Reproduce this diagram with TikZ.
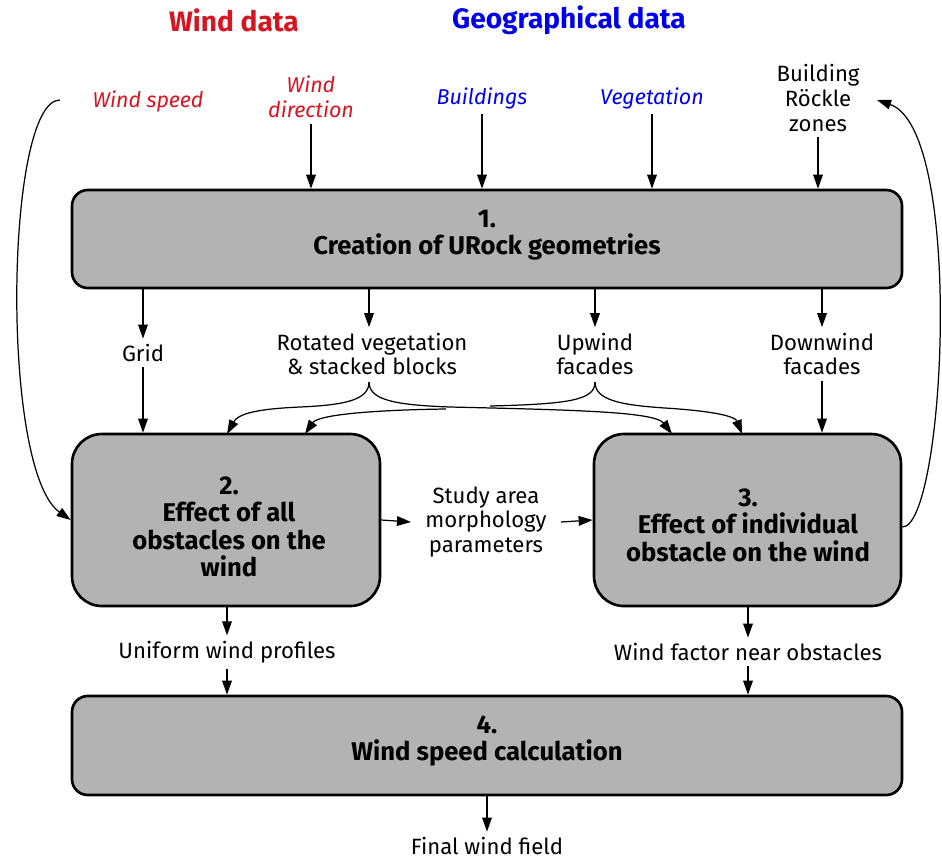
\documentclass[tikz,border=0pt]{standalone}
\usepackage{fontspec}
\setmainfont{Fira Sans}
\usetikzlibrary{arrows.meta,fit}
\definecolor{wred}{RGB}{212,22,34}
\definecolor{gblue}{RGB}{0,0,235}
\definecolor{boxgray}{RGB}{179,179,179}
\begin{document}
\begin{tikzpicture}[x=0.02cm,y=-0.02cm,
  arr/.style={-{Triangle[length=8pt,width=5.5pt]}, line width=0.7pt},
  con/.style={line width=0.7pt},
  flatbox/.style={draw, line width=1.5pt, fill=boxgray, rounded corners=9pt, inner sep=0pt},
  tallbox/.style={draw, line width=1.5pt, fill=boxgray, rounded corners=17pt, inner sep=0pt},
  boxtxt/.style={align=center, inner sep=0pt, font=\fontsize{14.6}{15.6}\selectfont\bfseries},
  head/.style={inner sep=0pt, font=\fontsize{16}{18}\selectfont\bfseries},
  txt/.style={align=center, inner sep=3pt, font=\fontsize{12.6}{14.2}\selectfont},
  itxt/.style={align=center, inner sep=3pt, font=\fontsize{12.2}{14.2}\selectfont\itshape}
]
\useasboundingbox (0,0) rectangle (942,859);

% headers
\node[head, text=wred] (hw) at (234,20) {Wind data};
\node[head, text=gblue] (hg) at (569,20) {Geographical data};

% inputs
\node[itxt, text=wred] (ws) at (148,101) {Wind speed};
\node[itxt, text=wred] (wd) at (311,97) {Wind\\direction};
\node[itxt, text=gblue] (bl) at (482,98) {Buildings};
\node[itxt, text=gblue] (vg) at (652,98) {Vegetation};
\node[txt] (rz) at (818,98) {Building\\Röckle\\zones};

% boxes
\node[flatbox, fit={(72,190) (902,288)}] (b1) {};
\node[boxtxt] (b1t) at (487,235) {1.\\Creation of URock geometries};
\node[tallbox, fit={(72,434) (380,606)}] (b2) {};
\node[boxtxt] (b2t) at (229,527) {2.\\Effect of all\\obstacles on the\\wind};
\node[tallbox, fit={(594,434) (901,606)}] (b3) {};
\node[boxtxt] (b3t) at (748,525) {3.\\Effect of individual\\obstacle on the wind};
\node[flatbox, fit={(72,696) (902,795)}] (b4) {};
\node[boxtxt] (b4t) at (487,741) {4.\\Wind speed calculation};

% intermediate texts
\node[txt] (gr) at (143,353) {Grid};
\node[txt] (rv) at (372,354) {Rotated vegetation\\\& stacked blocks};
\node[txt] (uf) at (595,354) {Upwind\\facades};
\node[txt] (df) at (822,354) {Downwind\\facades};
\node[txt, inner xsep=8pt] (sa) at (486,522) {Study area\\morphology\\parameters};
\node[txt] (uw) at (227,652) {Uniform wind profiles};
\node[txt] (wf) at (748,652) {Wind factor near obstacles};
\node[txt] (fw) at (487,846) {Final wind field};

% input arrows
\draw[arr] (wd.south) -- (wd.south |- b1.north);
\draw[arr] (bl.south) -- (bl.south |- b1.north);
\draw[arr] (vg.south) -- (vg.south |- b1.north);
\draw[arr] (rz.south) -- (rz.south |- b1.north);

% box1 outputs
\coordinate (rc) at (369,382);
\coordinate (uc) at (595,382);
\draw[arr] (gr.north |- b1.south) -- (gr.north);
\draw[arr] (rc |- b1.south) -- (rc |- rv.north);
\draw[arr] (uc |- b1.south) -- (uc |- uf.north);
\draw[arr] (df.north |- b1.south) -- (df.north);
\draw[arr] (gr.south) -- (gr.south |- b2.north);
\draw[arr] (df.south) -- (df.south |- b3.north);

% braces
\coordinate (t2a) at (227,434);
\coordinate (t2b) at (305,434);
\coordinate (t3a) at (672,434);
\coordinate (t3b) at (742,434);
\coordinate (ga) at (490,406);
\coordinate (gb) at (446,409);
\draw[arr] (rc) .. controls (369,400) and (345,405) .. (300,407)
  .. controls (255,409) and (238,414) .. (t2a);
\draw[arr] (rc) .. controls (369,400) and (395,405) .. (450,407)
  .. controls (580,410) and (655,412) .. (t3a);
\draw[con] (uc) .. controls (595,400) and (570,404) .. (ga);
\draw[arr] (gb) .. controls (370,410) and (318,415) .. (t2b);
\draw[arr] (uc) .. controls (595,400) and (620,405) .. (665,408)
  .. controls (712,411) and (735,416) .. (t3b);

% middle
\draw[arr] (b2.east) -- (sa.west);
\draw[arr] (sa.east) -- (b3.west);

% lower
\draw[arr] (uw.north |- b2.south) -- (uw.north);
\draw[arr] (uw.south) -- (uw.south |- b4.north);
\draw[arr] (wf.north |- b3.south) -- (wf.north);
\draw[arr] (wf.south) -- (wf.south |- b4.north);
\draw[arr] (fw.north |- b4.south) -- (fw.north);

% feedback curves
\coordinate (wsc) at (60,100);
\coordinate (rzt) at (877,100);
\draw[arr] (wsc) .. controls (5,100) and (0,470) .. (b2.west);
\draw[arr] ([yshift=-4pt]b3.east) .. controls (945,527) and (965,130) .. (rzt);
\end{tikzpicture}
\end{document}
